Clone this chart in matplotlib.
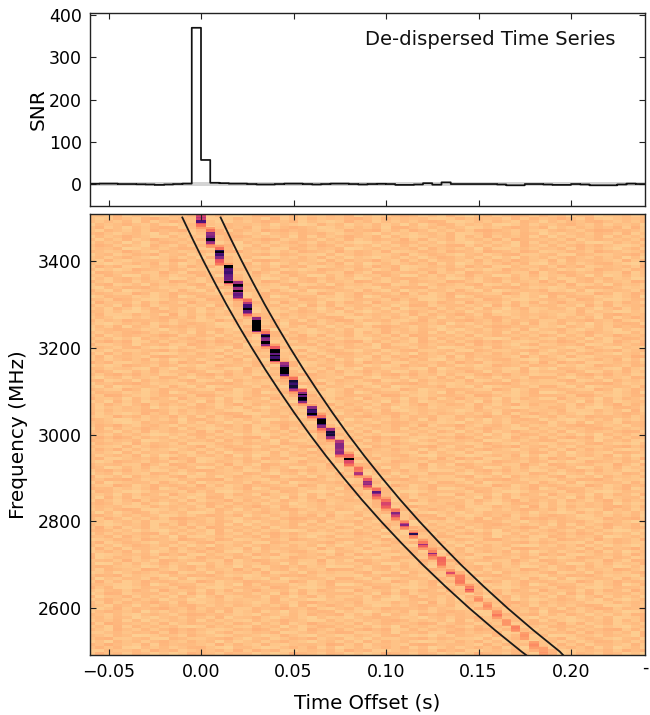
import numpy as np
import matplotlib
matplotlib.use("Agg")
import matplotlib.pyplot as plt

# ---- top panel: de-dispersed series, one value per 5 ms bin
snr_edges_start = -0.06
snr_bin = 0.005
snr_values = [0.5,1,1,0,0,-0.5,-1,-2,-1,0,1,370,57,3,2,1,1,0,-1,-1,0,1,1,0,-1,0,1,1,0,-1,
              0,0.5,0,-2,-2,-1,2,-1.5,4,0,0,0,0,0,-1,-3,-3,0,0,-1,-2,-2,0,-1,-3,-3,-3,-1,1,0]

# ---- dispersion sweep guide curves
curve_freq = [3500,3450,3400,3350,3300,3250,3200,3150,3100,3050,3000,2950,2900,
              2850,2800,2750,2700,2650,2600,2550,2500,2492]
curve_left = [-0.0101,-0.0045,0.0013,0.0074,0.0137,0.0204,0.0274,0.0347,0.0424,0.0504,
              0.0588,0.0677,0.0771,0.0869,0.0973,0.1083,0.1198,0.1321,0.1450,0.1587,0.1732,0.1757]
curve_right = [0.0106,0.0162,0.0220,0.0281,0.0344,0.0411,0.0481,0.0554,0.0631,0.0711,
               0.0795,0.0884,0.0978,0.1076,0.1180,0.1290,0.1405,0.1528,0.1657,0.1794,0.1939,0.1957]

# ---- burst: for each 5 ms column, top and bottom frequency and intensity levels
burst_top = [3508,3476,3435,3391,3354,3312,3271,3239,3206,3169,3133,3107,3068,3045,3015,2987,2957,2925,
             2902,2879,2854,2828,2803,2778,2755,2734,2718,2688,2676,2653,2626,2612,2593,2572,2561,2543,2522,2506]
burst_bottom = [3476,3430,3388,3345,3308,3271,3234,3197,3165,3130,3096,3066,3038,3006,2983,2948,2927,2900,
                2874,2849,2826,2801,2780,2759,2734,2711,2695,2672,2653,2635,2614,2596,2577,2561,2547,2529,2508,2492]
burst_levels = [
 [.42,.5,.45,.75,.38,.3,.28],
 [.3,.62,.58,.62,.66,.95,.62,.55,.3,.22],
 [.3,.85,.98,.75,.8,.62,.38,.35,.33,.28],
 [1,.8,.75,.8,.72,.7,.68,.6,1,.4],
 [.55,1,.9,.55,1,.6,.7,.65,.4],
 [.3,.5,.78,.8,1,.7,.5,.3],
 [.6,1,1,1,1,1,1,.6],
 [.3,.75,.95,.7,.6,1,1,.6,.3],
 [.35,.95,1,.7,1,.8,1,.4],
 [.55,.65,1,1,1,1,.7,.3],
 [.3,.9,.85,.8,.9,.7,.5,.3],
 [.35,.6,1,.7,1,1,.9,.6,.3],
 [.6,.85,.8,.8,1,.7,.3],
 [.3,.75,1,1,.8,.6,.3,.25],
 [.55,.9,.85,.9,.6,.55,.3],
 [.5,.62,.62,.6,.55,.6,.45,.3],
 [.32,.3,1,.4,.35,.3],
 [.3,.28,.5,.52,.3],
 [.35,.6,.55,.6,.4,.3],
 [.3,.72,.62,.4,.33,.28],
 [.3,.42,.42,.38,.34,.28],
 [.28,.62,.5,.42,.3,.26],
 [.25,.45,.62,.35,.25],
 [.32,.85,.3,.25],
 [.28,.55,.35,.26],
 [.26,.6,.34,.26,.24],
 [.32,.32,.3,.26],
 [.24,.4,.24],
 [.26,.26,.28,.26],
 [.28,.26,.38,.3],
 [.24,.24,.24],
 [.22,.24,.22],
 [.22,.28,.24],
 [.22,.22],
 [.26,.26,.24],
 [.22,.22,.2],
 [.22,.24,.22],
 [.2,.22,.2],
]

# ---- background channel noise, digit = level step
bg_cells = [
 "4539254015487261038962715364805136972518304725963847156034725",
 "3027417963548112735091627354896273645102736451827369518203645",
 "5263708159637401526974815203947152637981026374185063748952637",
 "1746953820471538664715302947153826071598264710382647953826471",
 "4815063798152037481526974015263708952637401526974805263748192",
 "3074162857916280741968574102857916285041628974162057416985741",
 "6941573062415798624057386941573062415738124957386041573862915",
 "1735964017352648973526081735964817302648173926481705264817352",
 "5062814953628047536981475062814753928147036281975362804753628",
 "2847061598473615084736952847301528973615204736192847361028473",
 "4972630841726958017263584972635041726358917263084172695841026",
 "3658014736982147065821973658014736582947360821473658294730582",
 "6413952064137528941305286419375280137528641975286013752964137",
 "0571486925714063257948632071486325914863057148932571086325794",
 "4726953047261938472015384926153047261598472615084726953847061",
 "3182045639827056318974563082745931827056318274963180745631927",
 "7302584916037258491603725849160372584916037259481063725894106",
 "2958103647295810364729581036472958013647295810634729581364729",
 "6140397528614039752861403975286149037528614039572861403975286",
 "0873562194087356219408735621940873562914087356219048735621904",
 "5496017382549601738254960173825496017382594601738254960713825",
 "1627948350162794835016279483501627984350162794835061279483501",
 "8305716429830571642983057164298305176429830571642938057164298",
 "3791260845379126084537912608453791260485379126084573912608453",
 "2064879513206487951320648795132064879153206487951302648795132",
 "9418035762941803576294180357629418053762941803576924180357629",
 "4752196038475219603847521960384752916038475219603487521960384",
 "0386724159038672415903867241590386742159038672415093867241590",
 "6529841037652984103765298410376529481037652984103675298410376",
 "1943607285194360728519436072851943067285194360728159436072851",
 "7250938146725093814672509381467250398146725093814762509381467",
 "3618405927361840592736184059273618045927361840592376184059273",
]
bg_row_levels = [2,5,3,1,4,6,2,3,5,1,4,2,6,3,1,5,2,4,3,6,1,2,5,3,4,1,6,2,3,5,4,2,1,5,3,6,2,4,1,3,5,2,6,4,1,3,2,5]

x_tick_vals = [-0.05,0.00,0.05,0.10,0.15,0.20]
snr_ticks = [0,100,200,300,400]
freq_ticks = [2600,2800,3000,3200,3400]

plt.rcParams['font.family'] = 'DejaVu Sans'
plt.rcParams['font.size'] = 12.5
W, H = 650, 715
fig = plt.figure(figsize=(W/100, H/100), dpi=100)
def box(l, t, r, b):
    return [l/W, 1-b/H, (r-l)/W, (b-t)/H]
ax1 = fig.add_axes(box(90, 13, 645, 206))
ax2 = fig.add_axes(box(90, 214, 645, 655))

# top panel
edges = snr_edges_start + snr_bin*np.arange(len(snr_values)+1)
ax1.axhspan(-4, 4, color='#d4d4d4', lw=0, zorder=1)
line, = ax1.step(edges, list(snr_values)+[snr_values[-1]], where='post', color='#111111', lw=1.25, zorder=2)
line.set_snap(False)
ax1.set_xlim(-0.06, 0.24)
ax1.set_ylim(-52, 405)
ax1.set_yticks(snr_ticks)
ax1.set_xticks(x_tick_vals)
ax1.set_xticklabels([])
ax1.set_ylabel('SNR', fontsize=14.4, labelpad=1)
ax1.text(0.495, 0.865, 'De-dispersed Time Series', transform=ax1.transAxes, fontsize=14.1, ha='left', va='center', color='#111111')

# bottom panel: waterfall image on a fine channel grid
f_lo, f_hi = 2492, 3508
n_rows = 294
n_cols = len(snr_values)+1
freq_edges = np.linspace(f_hi, f_lo, n_rows+1)
img = np.zeros((n_rows, n_cols))
for r in range(n_rows):
    ch = r//2
    row = bg_cells[ch % len(bg_cells)]
    shift = 11*(ch//len(bg_cells))
    for c in range(n_cols):
        img[r, c] = 0.097 + 0.006*int(row[(c+shift) % len(row)]) + 0.002*bg_row_levels[ch % len(bg_row_levels)]
for k, (ft, fb, lv) in enumerate(zip(burst_top, burst_bottom, burst_levels)):
    col = 12 + k
    rows = np.where((freq_edges[:-1] <= ft) & (freq_edges[1:] >= fb))[0]
    for j, r in enumerate(rows):
        img[r, col] = lv[min(int(j*len(lv)/len(rows)), len(lv)-1)]
    # soft red halo just above and below each burst segment
    for r in (rows[0]-1, rows[-1]+1):
        if 0 <= r < n_rows:
            img[r, col] = max(img[r, col], 0.2)
t0 = snr_edges_start - snr_bin/2
ax2.imshow(img, aspect='auto', cmap='magma_r', vmin=0, vmax=1, interpolation='nearest',
           extent=[t0, t0+snr_bin*n_cols, f_lo, f_hi], zorder=1)
ax2.plot(curve_left, curve_freq, color='#1a1a1a', lw=1.3, zorder=3)
ax2.plot(curve_right, curve_freq, color='#1a1a1a', lw=1.3, zorder=3)
ax2.set_xlim(-0.06, 0.24)
ax2.set_ylim(f_lo, f_hi)
ax2.set_xticks(x_tick_vals)
ax2.set_xticklabels(['%.2f' % v if v >= 0 else '\u2212%.2f' % abs(v) for v in x_tick_vals])
ax2.set_yticks(freq_ticks)
ax2.set_xlabel('Time Offset (s)', fontsize=14.2, labelpad=9)
ax2.set_ylabel('Frequency (MHz)', fontsize=14.4, labelpad=7)
ax2.text(1.0, -0.0295, '-', transform=ax2.transAxes, fontsize=12.5, ha='center', va='center', clip_on=False)

for ax in (ax1, ax2):
    ax.tick_params(direction='in', length=4, width=0.8, top=True, right=True, color='#222222', pad=6)
    for s in ax.spines.values():
        s.set_linewidth(1.0)
        s.set_color('#222222')

fig.savefig('out.png', dpi=100)
